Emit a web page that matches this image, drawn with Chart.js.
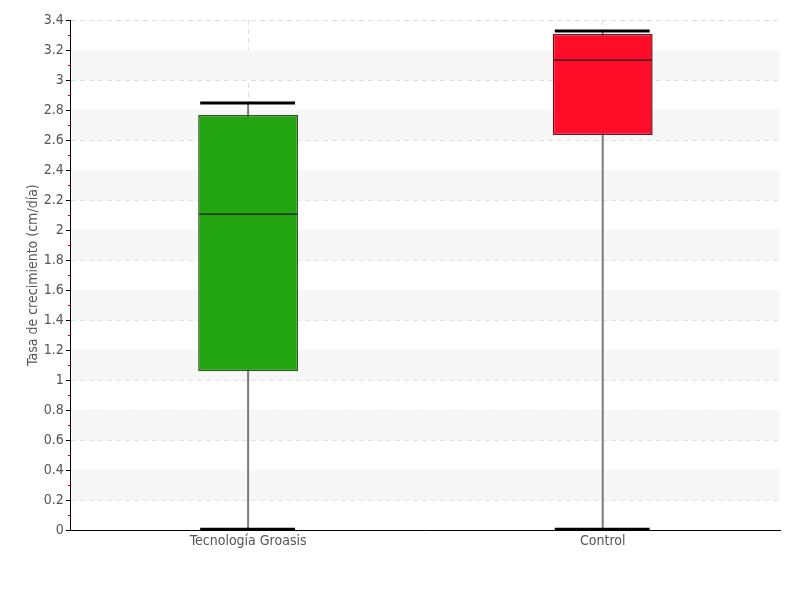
<!DOCTYPE html>
<html>
<head>
<meta charset="utf-8">
<script src="https://cdn.jsdelivr.net/npm/chart.js@4.4.1/dist/chart.umd.min.js"></script>
<style>
  html, body { margin: 0; padding: 0; background: #fff; }
</style>
</head>
<body>
<canvas id="chart" width="800" height="600"></canvas>
<script>
// box plot values
const categories = ['Tecnología Groasis', 'Control'];
const minValues = [0, 0];
const q1Values = [1.06, 2.633];
const medianValues = [2.107, 3.133];
const q3Values = [2.767, 3.307];
const maxValues = [2.847, 3.327];

const boxColors = ['#22a510', '#ff0d28'];
const boxBorders = ['#2b5a1c', '#6e1421'];

// alternating light bands between the gridlines
const bandPlugin = {
    id: 'bands',
    beforeDatasetsDraw(chart) {
        const ctx = chart.ctx;
        const y = chart.scales.y;
        const area = chart.chartArea;
        ctx.save();
        ctx.fillStyle = '#f7f7f7';
        for (let k = 0; k < 8; k++) {
            const v = 0.2 + k * 0.4;
            const top = y.getPixelForValue(v + 0.2);
            const bottom = y.getPixelForValue(v);
            ctx.fillRect(area.left + 1, top, area.right - area.left - 1, bottom - top);
        }
        ctx.restore();
    }
};

// whiskers behind the boxes, caps and medians on top
const boxPlugin = {
    id: 'boxplot',
    beforeDatasetsDraw(chart) {
        const ctx = chart.ctx;
        const x = chart.scales.x;
        const y = chart.scales.y;
        ctx.save();
        ctx.strokeStyle = '#7a7a7a';
        ctx.lineWidth = 2;
        categories.forEach((c, i) => {
            const cx = x.getPixelForValue(i);
            ctx.beginPath();
            ctx.moveTo(cx, y.getPixelForValue(maxValues[i]));
            ctx.lineTo(cx, y.getPixelForValue(minValues[i]));
            ctx.stroke();
        });
        ctx.restore();
    },
    afterDatasetsDraw(chart) {
        const ctx = chart.ctx;
        const x = chart.scales.x;
        const y = chart.scales.y;
        const meta = chart.getDatasetMeta(0);
        ctx.save();
        categories.forEach((c, i) => {
            const cx = x.getPixelForValue(i);
            const bar = meta.data[i];
            const half = bar.width / 2;
            // median
            ctx.strokeStyle = '#1a1a1a';
            ctx.lineWidth = 1.2;
            const my = y.getPixelForValue(medianValues[i]);
            ctx.beginPath();
            ctx.moveTo(cx - half + 1, my);
            ctx.lineTo(cx + half - 1, my);
            ctx.stroke();
            // caps
            ctx.strokeStyle = '#000';
            ctx.lineWidth = 3;
            [maxValues[i], minValues[i]].forEach(v => {
                const py = y.getPixelForValue(v) - (v === 0 ? 1 : 0);
                ctx.beginPath();
                ctx.moveTo(cx - half + 2, py);
                ctx.lineTo(cx + half - 3, py);
                ctx.stroke();
            });
        });
        ctx.restore();
    }
};

// small red minor ticks at the half steps
const minorTickPlugin = {
    id: 'minorTicks',
    afterDraw(chart) {
        const ctx = chart.ctx;
        const y = chart.scales.y;
        const left = chart.chartArea.left;
        ctx.save();
        ctx.strokeStyle = '#d00000';
        ctx.lineWidth = 1;
        for (let k = 0; k < 17; k++) {
            const py = Math.round(y.getPixelForValue(0.1 + k * 0.2)) + 0.5;
            ctx.beginPath();
            ctx.moveTo(left - 3, py);
            ctx.lineTo(left, py);
            ctx.stroke();
        }
        ctx.restore();
    }
};

Chart.defaults.font.family = '"DejaVu Sans Condensed", "DejaVu Sans", sans-serif';
Chart.defaults.font.size = 14;
Chart.defaults.color = '#555';

const ctx = document.getElementById('chart').getContext('2d');

const chart = new Chart(ctx, {
    type: 'bar',
    data: {
        labels: categories,
        datasets: [{
            data: categories.map((c, i) => [q1Values[i], q3Values[i]]),
            backgroundColor: boxColors,
            borderColor: boxBorders,
            borderWidth: 1.5,
            borderSkipped: false,
            categoryPercentage: 1,
            barPercentage: 0.2817
        }]
    },
    options: {
        responsive: false,
        animation: false,
        layout: {
            padding: { top: 20, right: 20, bottom: 47, left: 25 }
        },
        plugins: {
            legend: { display: false },
            tooltip: { enabled: false }
        },
        scales: {
            x: {
                grid: {
                    offset: false,
                    drawTicks: false,
                    color: '#dedede'
                },
                border: { color: '#000', width: 1, dash: [5, 4] },
                ticks: { padding: 3, color: '#555' }
            },
            y: {
                min: 0,
                max: 3.4,
                grid: {
                    color: '#dedede',
                    tickColor: '#000',
                    tickLength: 5,
                    tickBorderDash: []
                },
                border: { color: '#000', width: 1, dash: [5, 4] },
                ticks: {
                    stepSize: 0.2,
                    padding: 2,
                    color: '#555',
                    callback: v => String(Number(v.toFixed(1)))
                },
                title: {
                    display: true,
                    text: 'Tasa de crecimiento (cm/día)',
                    color: '#555',
                    font: { size: 14 },
                    padding: { top: 0, bottom: 0 }
                }
            }
        }
    },
    plugins: [bandPlugin, boxPlugin, minorTickPlugin]
});
</script>
</body>
</html>
